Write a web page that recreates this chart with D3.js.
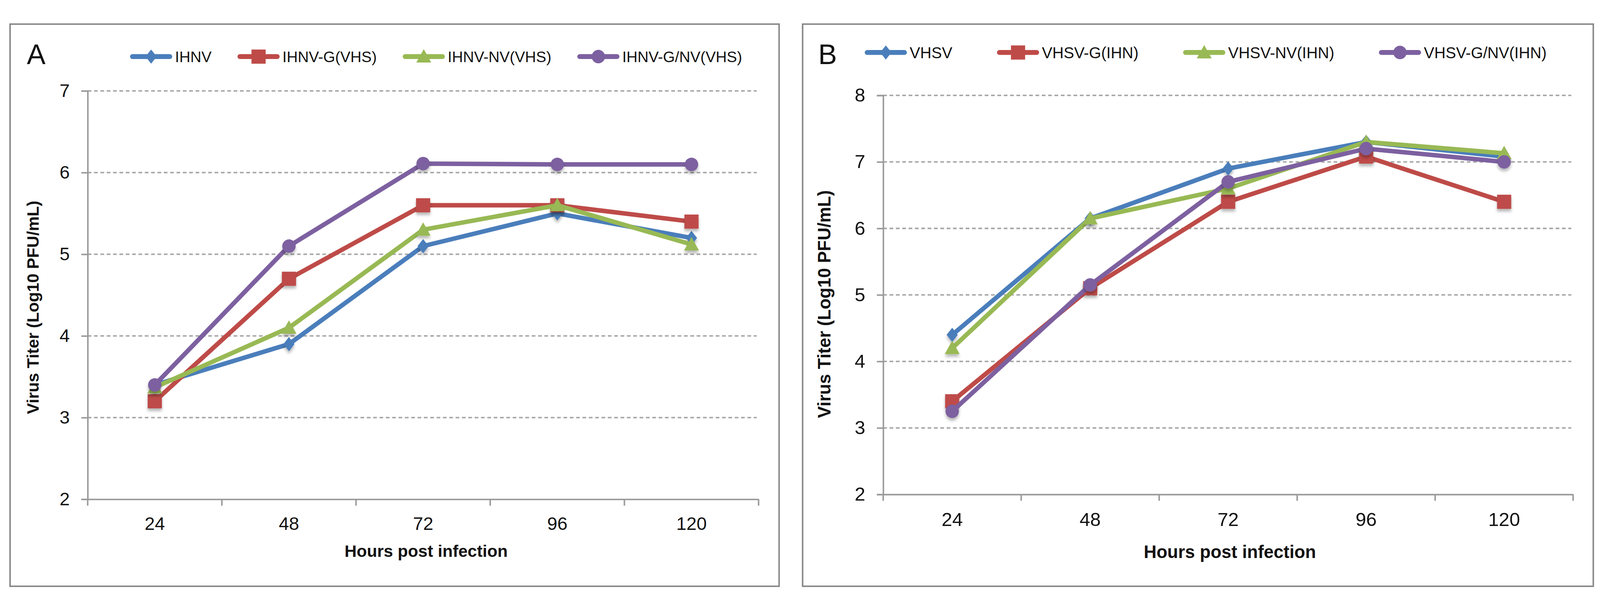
<!DOCTYPE html>
<html>
<head>
<meta charset="utf-8">
<script src="https://cdn.jsdelivr.net/npm/d3@7"></script>
<style>
  html, body { margin: 0; padding: 0; width: 100%; height: 100%; overflow: hidden; background: #fff; }
  #chart { width: 100vw; height: 100vh; }
  svg { display: block; }
  svg text { font-family: "Liberation Sans", Arial, sans-serif; fill: #111; }
</style>
</head>
<body>
<div id="chart"></div>
<script>
// x categories (hours post infection)
var hours = ["24", "48", "72", "96", "120"];

// panel A
var namesA = ["IHNV", "IHNV-G(VHS)", "IHNV-NV(VHS)", "IHNV-G/NV(VHS)"];
var ihnv    = [3.40, 3.90, 5.10, 5.50, 5.20];
var ihnvG   = [3.20, 4.70, 5.60, 5.60, 5.40];
var ihnvNV  = [3.37, 4.10, 5.30, 5.60, 5.12];
var ihnvGNV = [3.40, 5.10, 6.11, 6.10, 6.10];
var yTicksA = [2, 3, 4, 5, 6, 7];

// panel B
var namesB = ["VHSV", "VHSV-G(IHN)", "VHSV-NV(IHN)", "VHSV-G/NV(IHN)"];
var vhsv    = [4.40, 6.15, 6.90, 7.30, 7.08];
var vhsvG   = [3.40, 5.10, 6.40, 7.08, 6.40];
var vhsvNV  = [4.20, 6.15, 6.60, 7.30, 7.13];
var vhsvGNV = [3.25, 5.15, 6.70, 7.20, 7.00];
var yTicksB = [2, 3, 4, 5, 6, 7, 8];

var colors = ["#4A7EBB", "#BE4B48", "#98B954", "#7D60A0"];
var shapes = ["diamond", "square", "triangle", "circle"];

var W = 4288, H = 1561;

// viewBox so the whole figure fits whatever viewport the page gets
var svg = d3.select("#chart")
    .append("svg")
    .attr("viewBox", "0 0 " + W + " " + H)
    .attr("preserveAspectRatio", "xMidYMid meet")
    .style("width", "100%")
    .style("height", "100%");

svg.append("rect").attr("width", W).attr("height", H).attr("fill", "#fff");

var defs = svg.append("defs");
defs.append("filter")
    .attr("id", "shadow")
    .attr("x", "-60%").attr("y", "-60%")
    .attr("width", "220%").attr("height", "220%")
    .append("feDropShadow")
    .attr("dx", 0).attr("dy", 7)
    .attr("stdDeviation", 4)
    .attr("flood-color", "#000")
    .attr("flood-opacity", 0.28);

function markerPath(shape) {
    if (shape === "diamond") return "M0,-19L15,0L0,19L-15,0Z";
    if (shape === "square") return "M-19,-19H19V19H-19Z";
    if (shape === "triangle") return "M0,-20L20,16L-20,16Z";
    return d3.symbol().type(d3.symbolCircle).size(Math.PI * 18 * 18)();
}

function drawPanel(p) {
    var g = svg.append("g");

    // frame
    g.append("rect")
        .attr("x", p.frame[0]).attr("y", p.frame[1])
        .attr("width", p.frame[2] - p.frame[0])
        .attr("height", p.frame[3] - p.frame[1])
        .attr("fill", "none")
        .attr("stroke", "#868686")
        .attr("stroke-width", 4);

    var x = d3.scaleBand().domain(hours).range(p.xRange).paddingInner(0).paddingOuter(0);
    var y = d3.scaleLinear().domain([p.yTicks[0], p.yTicks[p.yTicks.length - 1]]).range(p.yRange);

    var x0 = p.xRange[0], x1 = p.xRange[1];

    // dashed gridlines
    g.selectAll(".grid")
        .data(p.yTicks.slice(1))
        .enter().append("line")
        .attr("x1", x0).attr("x2", x1 - 5)
        .attr("y1", function (d) { return y(d); })
        .attr("y2", function (d) { return y(d); })
        .attr("stroke", "#a6a6a6")
        .attr("stroke-width", 4)
        .attr("stroke-dasharray", "10,7");

    // y axis
    var yAxis = g.append("g")
        .attr("transform", "translate(" + x0 + ",0)")
        .call(d3.axisLeft(y).tickValues(p.yTicks).tickSize(17).tickPadding(31).tickFormat(d3.format("d")));
    yAxis.selectAll("line, path").attr("stroke", "#9a9a9a").attr("stroke-width", 4);
    yAxis.selectAll("text").attr("font-size", p.tickSize).attr("fill", "#111");

    // x axis: labels at category centres, ticks at category boundaries
    var xAxis = g.append("g")
        .attr("transform", "translate(0," + p.yRange[0] + ")")
        .call(d3.axisBottom(x).tickSize(0).tickPadding(0));
    xAxis.select("path").attr("stroke", "#9a9a9a").attr("stroke-width", 4);
    xAxis.selectAll("text")
        .attr("font-size", p.tickSize)
        .attr("fill", "#111")
        .attr("dy", null)
        .attr("y", p.tickBase - p.yRange[0]);
    var bounds = hours.map(function (h) { return x(h); }).concat([x1]);
    xAxis.selectAll(".btick")
        .data(bounds)
        .enter().append("line")
        .attr("x1", function (d) { return d; })
        .attr("x2", function (d) { return d; })
        .attr("y1", 0).attr("y2", 17)
        .attr("stroke", "#9a9a9a").attr("stroke-width", 4);

    // axis titles
    g.append("text")
        .attr("x", p.xTitle[0]).attr("y", p.xTitle[1])
        .attr("text-anchor", "middle")
        .attr("font-size", p.xTitleSize)
        .attr("font-weight", "bold")
        .text("Hours post infection");

    g.append("text")
        .attr("transform", "translate(" + p.yTitle[0] + "," + p.yTitle[1] + ") rotate(-90)")
        .attr("text-anchor", "middle")
        .attr("font-size", p.yTitleSize)
        .attr("font-weight", "bold")
        .text("Virus Titer (Log10 PFU/mL)");

    // panel letter
    g.append("text")
        .attr("x", p.letterPos[0]).attr("y", p.letterPos[1])
        .attr("font-size", 75)
        .text(p.letter);

    // series
    var line = d3.line()
        .x(function (d, i) { return x(hours[i]) + x.bandwidth() / 2; })
        .y(function (d) { return y(d); });

    p.series.forEach(function (vals, si) {
        var sg = g.append("g");
        sg.append("path")
            .datum(vals)
            .attr("fill", "none")
            .attr("stroke", colors[si])
            .attr("stroke-width", 12)
            .attr("stroke-linejoin", "round")
            .attr("stroke-linecap", "round")
            .attr("d", line);
        sg.selectAll(".mk")
            .data(vals)
            .enter().append("path")
            .attr("d", markerPath(shapes[si]))
            .attr("transform", function (d, i) {
                return "translate(" + (x(hours[i]) + x.bandwidth() / 2) + "," + y(d) + ")";
            })
            .attr("fill", colors[si])
            .attr("filter", "url(#shadow)");
    });

    // legend
    var lx = p.legendX;
    p.names.forEach(function (name, i) {
        var lg = g.append("g");
        lg.append("line")
            .attr("x1", lx + 6).attr("x2", lx + 106)
            .attr("y1", p.legendY).attr("y2", p.legendY)
            .attr("stroke", colors[i])
            .attr("stroke-width", 13)
            .attr("stroke-linecap", "round");
        lg.append("path")
            .attr("d", markerPath(shapes[i]))
            .attr("transform", "translate(" + (lx + 56) + "," + p.legendY + ")")
            .attr("fill", colors[i]);
        var t = lg.append("text")
            .attr("x", lx + 120)
            .attr("y", p.legendY + 0.358 * p.legendSize)
            .attr("font-size", p.legendSize)
            .text(name);
        lx = lx + 120 + t.node().getComputedTextLength() + p.legendGap;
    });
}

drawPanel({
    frame: [27, 28, 2088, 1534],
    xRange: [235, 2033],
    yRange: [1301, 207],
    yTicks: yTicksA,
    tickSize: 49,
    tickBase: 1383,
    xTitle: [1142, 1455],
    xTitleSize: 45,
    yTitle: [104, 787],
    yTitleSize: 44.5,
    letter: "A",
    letterPos: [72, 135],
    names: namesA,
    series: [ihnv, ihnvG, ihnvNV, ihnvGNV],
    legendX: 349,
    legendY: 115,
    legendSize: 41,
    legendGap: 70
});

drawPanel({
    frame: [2151, 28, 4270, 1534],
    xRange: [2367, 4216],
    yRange: [1288, 219],
    yTicks: yTicksB,
    tickSize: 51,
    tickBase: 1372,
    xTitle: [3296, 1458],
    xTitleSize: 47.5,
    yTitle: [2226, 778],
    yTitleSize: 47.5,
    letter: "B",
    letterPos: [2193, 135],
    names: namesB,
    series: [vhsv, vhsvG, vhsvNV, vhsvGNV],
    legendX: 2318,
    legendY: 104,
    legendSize: 42,
    legendGap: 120
});
</script>
</body>
</html>
